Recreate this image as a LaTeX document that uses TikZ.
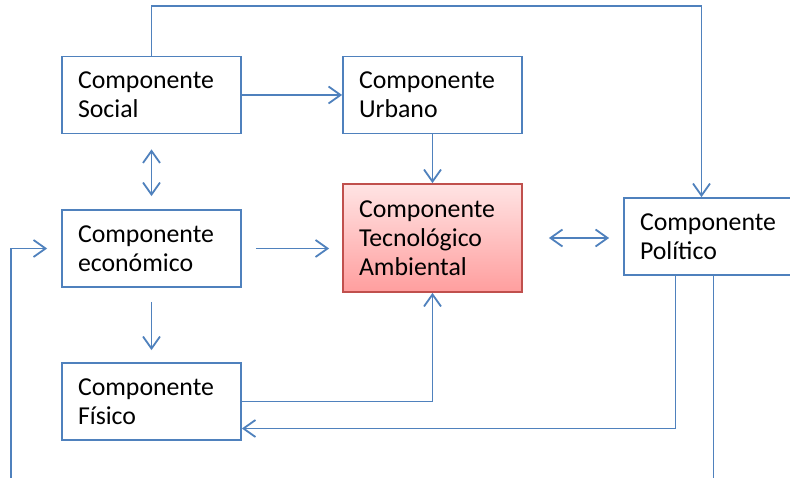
\documentclass[tikz,border=0pt]{standalone}
\usepackage{fontspec}
\setmainfont{Carlito}
\usepackage{tikz}
\usetikzlibrary{arrows.meta}
\definecolor{linkblue}{RGB}{79,129,189}
\definecolor{tecred}{RGB}{192,80,77}
\tikzset{>={Straight Barb[length=12pt,width=17pt]}}
\tikzset{
  comp/.style={rectangle, draw=linkblue, line width=1.8pt, fill=white,
    minimum width=179pt, minimum height=77pt, inner xsep=16pt,
    text width=147pt, align=left,
    font=\fontsize{25.8}{29}\selectfont},
  link/.style={draw=linkblue, line width=1.8pt}
}

\begin{document}
\begin{tikzpicture}[x=1pt, y=-1pt]
  \clip (0,0) rectangle (790,478);
  \fill[white] (0,0) rectangle (790,478);

  \node[comp] (social) at (151.5, 95) {Componente\\Social};
  \node[comp] (urbano) at (432.5, 95) {Componente\\Urbano};
  \node[comp] (economico) at (151.5, 248.5) {Componente\\económico};
  \node[comp] (fisico) at (151.5, 401.5) {Componente\\Físico};
  \node[comp, draw=tecred, top color={rgb,255:red,255;green,228;blue,228},
    bottom color={rgb,255:red,255;green,158;blue,158}, minimum height=108pt] %%
  (tecno) at (432.5, 238) {Componente\\Tecnológico\\Ambiental};
  \node[comp] (politico) at (713.5, 236.5) {Componente\\Político};

  \coordinate (topline) at (0, 6);
  \coordinate (bottomline) at (0, 482);
  \coordinate (leftline) at (11, 482);

  \draw[link, ->] (social.north) -- (social.north |- topline) -| %%
  ([xshift=-12pt]politico.north);
  \draw[link, ->] (social.east) -- (urbano.west);
  \draw[link, <->] ([yshift=-15pt]social.south) -- ([yshift=13pt]economico.north);
  \draw[link, ->] (urbano.south) -- (tecno.north);
  \draw[link, ->] ([xshift=14pt]economico.east) -- %%
  ([xshift=-13pt]economico.east -| tecno.west);
  \draw[link, <->] ([xshift=26pt]tecno.east) -- ([xshift=-14pt]tecno.east -| politico.west);
  \draw[link, ->] ([yshift=-14pt]economico.south) -- ([yshift=12pt]fisico.north);
  \draw[link, ->] (fisico.east) -| (tecno.south);
  \draw[link, ->] ([xshift=-38pt]politico.south) |- ([yshift=-27pt]fisico.east);
  \draw[link] (politico.south) -- (politico.south |- bottomline);
  \draw[link, ->] (leftline) |- ([xshift=-14pt]economico.west);
\end{tikzpicture}
\end{document}
